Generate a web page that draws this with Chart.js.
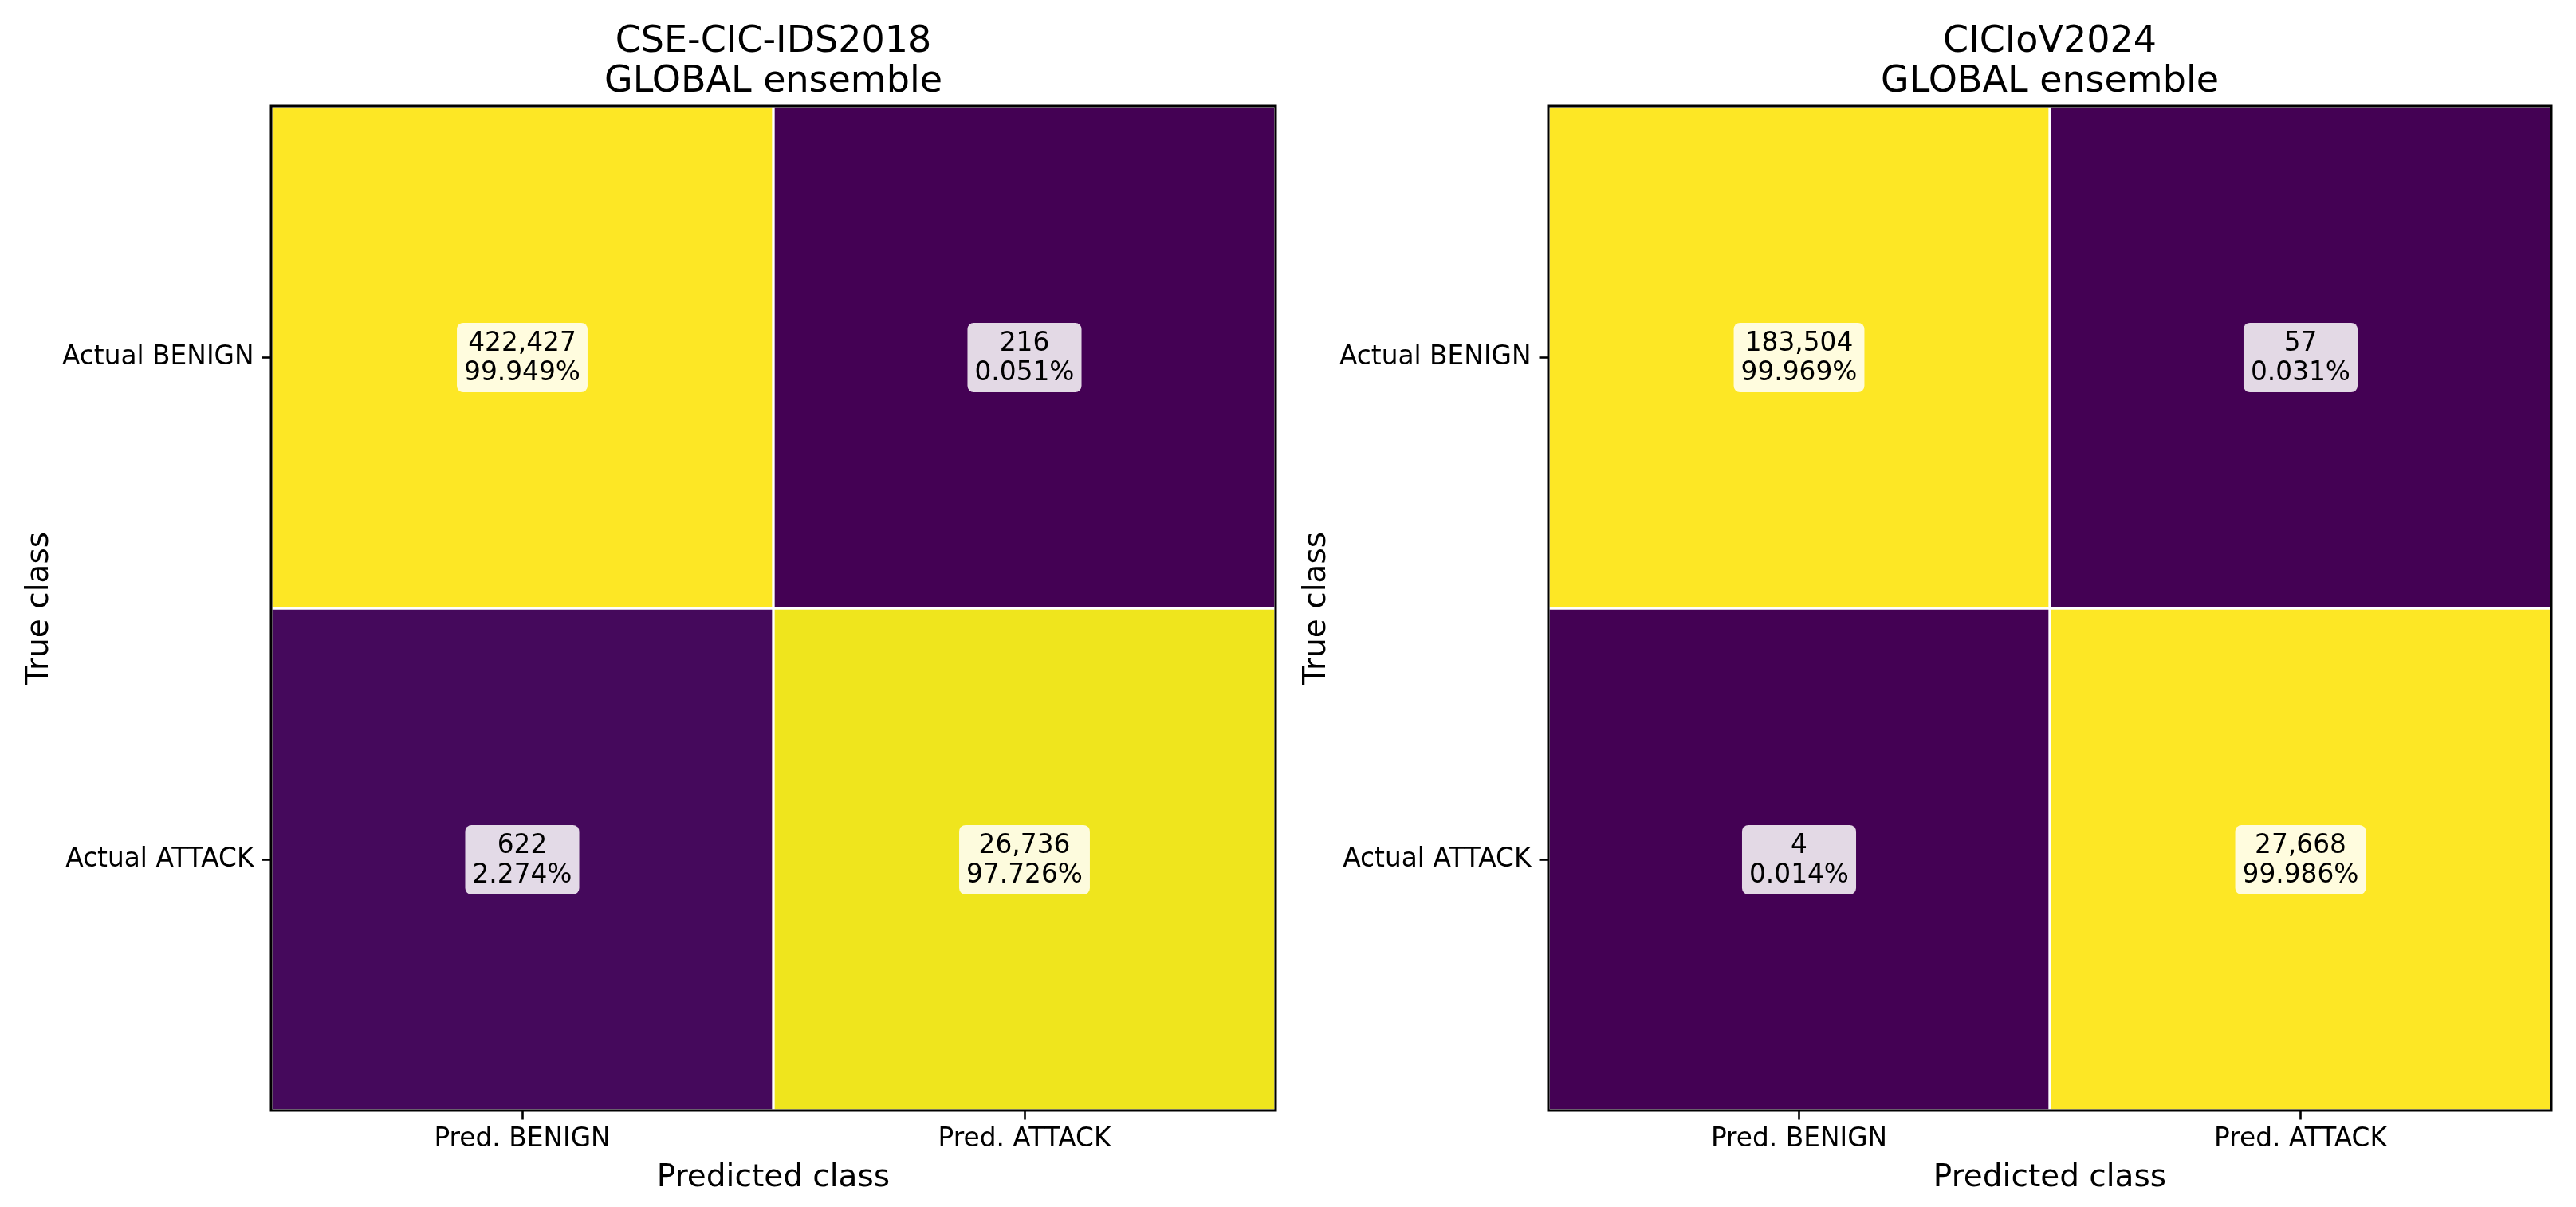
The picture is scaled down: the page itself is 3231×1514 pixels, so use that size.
<!DOCTYPE html>
<html>
<head>
<meta charset="utf-8">
<script src="https://cdn.jsdelivr.net/npm/chart.js@4.4.1/dist/chart.umd.min.js"></script>
<style>
  html, body { margin: 0; padding: 0; background: #fff; }
  body { width: 3231px; height: 1514px; position: relative; overflow: hidden; }
  .panel { position: absolute; top: 0; }
</style>
</head>
<body>
<div class="panel" style="left:0px"><canvas id="idsChart" width="1602" height="1514"></canvas></div>
<div class="panel" style="left:1602px"><canvas id="iovChart" width="1629" height="1514"></canvas></div>
<script>
// confusion matrix data
const rowLabels = ['Actual BENIGN', 'Actual ATTACK'];
const colLabels = ['Pred. BENIGN', 'Pred. ATTACK'];

const idsTitle = ['CSE-CIC-IDS2018', 'GLOBAL ensemble'];
const idsCounts = [[422427, 216], [622, 26736]];
const idsPercents = [[99.949, 0.051], [2.274, 97.726]];

const iovTitle = ['CICIoV2024', 'GLOBAL ensemble'];
const iovCounts = [[183504, 57], [4, 27668]];
const iovPercents = [[99.969, 0.031], [0.014, 99.986]];

// viridis colour stops
const viridis = [
    [0.0, '#440154'], [0.1, '#482475'], [0.2, '#414487'], [0.3, '#355f8d'],
    [0.4, '#2a788e'], [0.5, '#21918c'], [0.6, '#22a884'], [0.7, '#44bf70'],
    [0.8, '#7ad151'], [0.9, '#bddf26'], [0.95, '#dde318'], [0.98, '#f1e51d'],
    [1.0, '#fde725']
];

function hexToRgb(h) {
    return [parseInt(h.slice(1, 3), 16), parseInt(h.slice(3, 5), 16), parseInt(h.slice(5, 7), 16)];
}

function viridisColor(t) {
    t = Math.max(0, Math.min(1, t));
    for (let i = 1; i < viridis.length; i++) {
        if (t <= viridis[i][0]) {
            const [t0, c0] = viridis[i - 1];
            const [t1, c1] = viridis[i];
            const f = (t - t0) / (t1 - t0);
            const a = hexToRgb(c0), b = hexToRgb(c1);
            const rgb = a.map((v, k) => Math.round(v + (b[k] - v) * f));
            return 'rgb(' + rgb.join(',') + ')';
        }
    }
    return viridis[viridis.length - 1][1];
}

const FONT = 'DejaVu Sans';
const TICK_SIZE = 32.8;
const LABEL_SIZE = 39;
const TITLE_SIZE = 46;

// draws the frame and the count / percent boxes
const cellLabels = {
    id: 'cellLabels',
    afterDatasetsDraw(chart, args, opts) {
        const ctx = chart.ctx;
        const area = chart.chartArea;
        ctx.save();
        ctx.font = TICK_SIZE + 'px "' + FONT + '"';
        ctx.textAlign = 'center';
        ctx.textBaseline = 'alphabetic';
        chart.data.datasets.forEach((ds, i) => {
            const meta = chart.getDatasetMeta(i);
            meta.data.forEach((bar, j) => {
                const cx = bar.x;
                const cy = (bar.y + bar.base) / 2;
                const line1 = opts.counts[i][j].toLocaleString('en-US');
                const line2 = opts.percents[i][j].toFixed(3) + '%';
                const w = Math.max(ctx.measureText(line1).width, ctx.measureText(line2).width) + 18;
                ctx.fillStyle = 'rgba(255,255,255,0.85)';
                ctx.beginPath();
                ctx.roundRect(cx - w / 2, cy - 43, w, 87, 8);
                ctx.fill();
                ctx.fillStyle = '#000';
                ctx.fillText(line1, cx, cy - 8);
                ctx.fillText(line2, cx, cy + 29);
            });
        });
        ctx.strokeStyle = '#000';
        ctx.lineWidth = 3;
        ctx.strokeRect(area.left, area.top, area.right - area.left, area.bottom - area.top);
        ctx.restore();
    }
};

function makeMatrix(canvasId, title, counts, percents, rightPad) {
    const datasets = rowLabels.map((row, i) => ({
        label: row,
        data: colLabels.map((col, j) => ({ x: col, y: [i, i + 1] })),
        backgroundColor: percents[i].map(p => viridisColor(p / 100)),
        borderColor: '#ffffff',
        borderWidth: 2,
        borderSkipped: false,
        grouped: false,
        barPercentage: 1,
        categoryPercentage: 1
    }));

    new Chart(document.getElementById(canvasId), {
        type: 'bar',
        data: { labels: colLabels, datasets: datasets },
        plugins: [cellLabels],
        options: {
            responsive: false,
            animation: false,
            devicePixelRatio: 1,
            layout: { padding: { top: 0, right: rightPad, bottom: 0, left: 0 } },
            scales: {
                x: {
                    type: 'category',
                    offset: true,
                    grid: { offset: false, drawOnChartArea: false, drawTicks: true, tickLength: 11.5, tickWidth: 2.6, tickColor: '#000' },
                    border: { display: false },
                    ticks: { color: '#000', padding: 5, maxRotation: 0, font: { family: FONT, size: TICK_SIZE } },
                    title: { display: true, text: 'Predicted class', color: '#000', padding: { top: 0, bottom: 13 }, font: { family: FONT, size: LABEL_SIZE } },
                    afterFit: scale => { scale.height = 121; }
                },
                y: {
                    type: 'linear',
                    min: 0,
                    max: 2,
                    reverse: true,
                    afterBuildTicks: scale => { scale.ticks = rowLabels.map((r, i) => ({ value: i + 0.5 })); },
                    grid: { drawOnChartArea: false, drawTicks: true, tickLength: 11.5, tickWidth: 2.6, tickColor: '#000' },
                    border: { display: false },
                    ticks: {
                        color: '#000',
                        padding: 10,
                        font: { family: FONT, size: TICK_SIZE },
                        callback: (v) => rowLabels[Math.floor(v)]
                    },
                    title: { display: true, text: 'True class', color: '#000', padding: { top: 26, bottom: 0 }, font: { family: FONT, size: LABEL_SIZE } },
                    afterFit: scale => { scale.width = 340; }
                }
            },
            plugins: {
                legend: { display: false },
                tooltip: { enabled: false },
                title: {
                    display: true,
                    text: title,
                    fullSize: false,
                    color: '#000',
                    padding: { top: 28, bottom: 5 },
                    font: { family: FONT, size: TITLE_SIZE, weight: 'normal', lineHeight: 1.087 }
                },
                cellLabels: { counts: counts, percents: percents }
            }
        }
    });
}

makeMatrix('idsChart', idsTitle, idsCounts, idsPercents, 2);
makeMatrix('iovChart', iovTitle, iovCounts, iovPercents, 31);
</script>
</body>
</html>
